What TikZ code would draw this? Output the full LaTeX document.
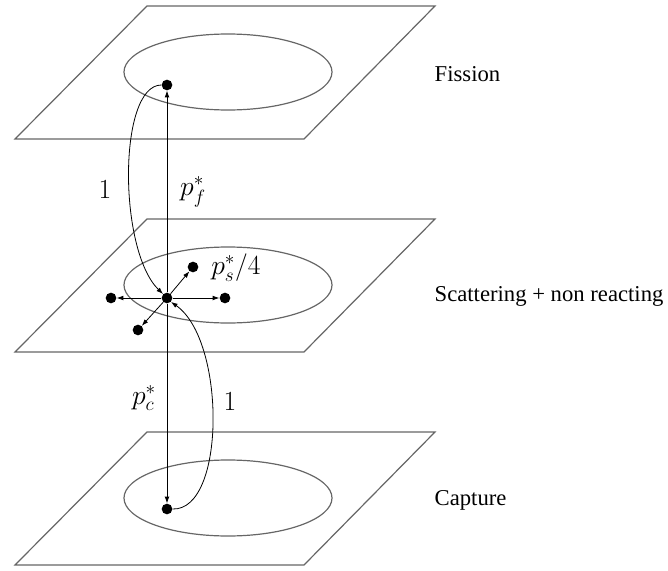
\documentclass[tikz,border=0pt]{standalone}
\usepackage{fontspec}
\setmainfont{Liberation Serif}
\usepackage{tikz}
\usetikzlibrary{arrows.meta}
\usepackage{amsmath, amssymb}

\tikzset{
  plane/.style={draw=black!60, line width=0.9pt},
  dot/.style={circle, fill=black, inner sep=0pt, minimum size=8pt},
  arr/.style={-{Latex[length=5pt,width=3.5pt]}, line width=0.6pt},
  lbl/.style={font=\fontsize{17}{20}\selectfont},
  mlbl/.style={font=\fontsize{22}{26}\selectfont}
}

\begin{document}
\begin{tikzpicture}[x=0.75pt, y=-0.75pt]
    \useasboundingbox (0,0) rectangle (668,571);

    % the three planes
    \foreach \dy in {0,213,426} {
      \draw[plane] (147,6+\dy) -- (435,6+\dy) -- (304,139+\dy) -- (15,139+\dy) -- cycle;
      \draw[plane] (228,72+\dy) ellipse (104 and 38);
    }

    % states
    \node[dot] (fdot) at (167,85) {};
    \node[dot] (sdot) at (167,298) {};
    \node[dot] (cdot) at (167,509) {};
    \node[dot] (sright) at (225,298) {};
    \node[dot] (sleft) at (111,298) {};
    \node[dot] (sup) at (193,267) {};
    \node[dot] (sdown) at (138,330) {};

    % transitions
    \draw[arr] (sdot) -- (fdot);
    \draw[arr] (sdot) -- (cdot);
    \foreach \t in {sright,sleft,sup,sdown}
      \draw[arr] (sdot) -- (\t);
    \draw[arr] (fdot.west) .. controls (118,85) and (118,250) .. (sdot.north west);
    \draw[arr] (cdot.east) .. controls (226,511) and (226,340) .. (sdot.south east);

    \node[mlbl] (onef) at (105,190) {$1$};
    \node[mlbl] (pf) at (193,192) {$p_f^*$};
    \node[mlbl] (ps) at (236,268) {$p_s^*/4$};
    \node[mlbl] (pc) at (144,398) {$p_c^*$};
    \node[mlbl] (onec) at (230,402) {$1$};

    \node[lbl, anchor=west] (fis) at (430,74) {Fission};
    \node[lbl, anchor=west] (sca) at (430,296) {Scattering + non reacting};
    \node[lbl, anchor=west] (cap) at (430,500) {Capture};
\end{tikzpicture}
\end{document}
